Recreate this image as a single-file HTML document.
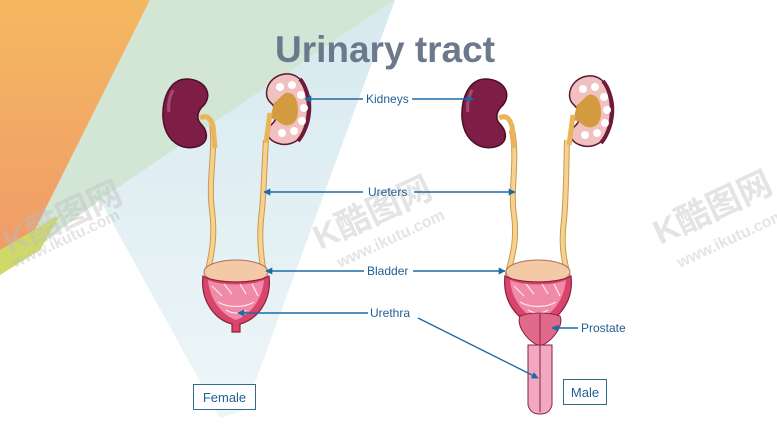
<!DOCTYPE html>
<html><head><meta charset="utf-8"><style>
html,body{margin:0;padding:0;background:#fff;}
svg{display:block;}
text{font-family:"Liberation Sans","Noto Sans CJK SC",sans-serif;}
</style></head><body>
<svg width="777" height="437" viewBox="0 0 777 437" xmlns="http://www.w3.org/2000/svg">
<defs>
<linearGradient id="blu" x1="0" y1="0" x2="0" y2="1">
<stop offset="0" stop-color="#d6e9ef"/><stop offset="1" stop-color="#eef6f8"/>
</linearGradient>
<linearGradient id="org" x1="0" y1="0" x2="0" y2="1">
<stop offset="0" stop-color="#f4b860"/><stop offset="1" stop-color="#ef9a6a"/>
</linearGradient>
<g id="kd">
<path d="M25 1 C6 0 -1 22 0 40 C2 64 20 74 36 68 C47 63 44 52 38 46 C33 41 34 33 41 27 C50 16 42 2 25 1 Z" fill="#7e1d45" stroke="#4a1028" stroke-width="1.5"/>
<path d="M10 12 C6 20 5 28 6 34" stroke="#a84a70" stroke-width="3" fill="none"/>
<path d="M37 40 C45 36 48 42 50 48 L52 70" stroke="#e9b45a" stroke-width="5" fill="none"/>
</g>
<g id="kc">
<path d="M23 1 C41 -1 51 22 48 42 C45 67 28 75 15 70 C4 66 3 57 10 51 C17 45 15 35 8 29 C0 21 6 3 23 1 Z" fill="#f1c0c0" stroke="#5a1a30" stroke-width="1.5"/>
<path d="M38 6 C50 20 50 52 36 68" stroke="#6e1a3a" stroke-width="4" fill="none"/>
<path d="M12 30 C20 24 22 18 28 20 C34 22 36 30 36 38 C36 48 30 54 22 52 C16 50 14 44 8 46 Z" fill="#d49a40"/>
<circle cx="18" cy="14" r="4" fill="#fff"/><circle cx="30" cy="12" r="4" fill="#fff"/><circle cx="39" cy="22" r="4" fill="#fff"/><circle cx="42" cy="35" r="4" fill="#fff"/><circle cx="40" cy="48" r="4" fill="#fff"/><circle cx="32" cy="58" r="4" fill="#fff"/><circle cx="20" cy="60" r="4" fill="#fff"/>
<path d="M8 40 L4 70" stroke="#e9b45a" stroke-width="5" fill="none"/>
</g>
<g id="bl">
<ellipse cx="0" cy="0" rx="32" ry="12" fill="#f4c9a6" stroke="#b07060" stroke-width="1"/>
<path d="M-33 4 C-36 30 -20 48 -4 52 L-4 60 L4 60 L4 52 C20 48 36 30 33 4 C20 12 -20 12 -33 4 Z" fill="#d9456a" stroke="#8a2040" stroke-width="1.2"/>
<path d="M-28 8 C-26 30 -12 44 0 48 C12 44 26 30 28 8 C15 14 -15 14 -28 8 Z" fill="#ef8aa8"/>
<path d="M-24 14 L-14 24 M-12 12 L-4 22 M4 12 L10 22 M16 12 L22 24 M-18 30 C-8 36 8 36 18 30 M-10 38 C-4 42 4 42 10 38" stroke="#fff" stroke-width="1.2" fill="none" opacity=".8"/>
</g>
<marker id="ar" viewBox="0 0 10 10" refX="9" refY="5" markerWidth="5" markerHeight="5" orient="auto-start-reverse"><path d="M0 0 L10 5 L0 10 Z" fill="#1f6aa5"/></marker>
</defs>

<polygon points="0,0 150,0 20,260 0,270" fill="url(#org)"/>
<polygon points="150,0 395,0 100,200 20,260" fill="#d3e6d6"/>
<polygon points="0,250 60,215 40,250 0,275" fill="#cfd96a"/>
<polygon points="395,0 100,200 220,418 245,410" fill="url(#blu)"/>

<text x="385" y="62" text-anchor="middle" font-size="37" font-weight="bold" fill="#6c788c">Urinary tract</text>

<g fill="#bdbdbd" opacity=".4" font-weight="bold">
<text x="10" y="255" font-size="34" transform="rotate(-25 10 255)">K酷图网</text>
<text x="15" y="268" font-size="16" transform="rotate(-25 15 268)">www.ikutu.com</text>
<text x="320" y="250" font-size="34" transform="rotate(-25 320 250)">K酷图网</text>
<text x="340" y="268" font-size="16" transform="rotate(-25 340 268)">www.ikutu.com</text>
<text x="660" y="245" font-size="34" transform="rotate(-25 660 245)">K酷图网</text>
<text x="680" y="268" font-size="16" transform="rotate(-25 680 268)">www.ikutu.com</text>
</g>

<path d="M212 125 C216 150 208 180 212 210 C216 240 210 260 207 275" stroke="#c89a50" stroke-width="6" fill="none"/>
<path d="M212 125 C216 150 208 180 212 210 C216 240 210 260 207 275" stroke="#f6d28e" stroke-width="4" fill="none"/>
<path d="M266 140 C264 170 264 190 262 210 C258 240 262 260 264 275" stroke="#c89a50" stroke-width="6" fill="none"/>
<path d="M266 140 C264 170 264 190 262 210 C258 240 262 260 264 275" stroke="#f6d28e" stroke-width="4" fill="none"/>
<use href="#kd" x="163" y="78"/>
<use href="#kc" x="262" y="73"/>
<use href="#bl" x="236" y="272"/>

<path d="M512 130 C518 160 510 190 514 215 C518 245 510 262 507 278" stroke="#c89a50" stroke-width="6" fill="none"/>
<path d="M512 130 C518 160 510 190 514 215 C518 245 510 262 507 278" stroke="#f6d28e" stroke-width="4" fill="none"/>
<path d="M567 140 C566 180 566 200 564 220 C560 250 566 265 568 278" stroke="#c89a50" stroke-width="6" fill="none"/>
<path d="M567 140 C566 180 566 200 564 220 C560 250 566 265 568 278" stroke="#f6d28e" stroke-width="4" fill="none"/>
<use href="#kd" x="462" y="78"/>
<use href="#kc" x="565" y="75"/>
<use href="#bl" x="538" y="272"/>
<path d="M520 316 C530 312 548 312 560 316 C564 326 552 342 540 346 C528 342 516 326 520 316 Z" fill="#e06a8a" stroke="#8a2040" stroke-width="1"/>
<line x1="540" y1="314" x2="540" y2="346" stroke="#8a2040"/>
<path d="M528 345 L552 345 L552 405 C550 412 546 414 540 414 C534 414 530 412 528 405 Z" fill="#f2a8c0" stroke="#8a2040" stroke-width="1"/>
<line x1="540" y1="345" x2="540" y2="412" stroke="#8a2040"/>

<g stroke="#1f6aa5" stroke-width="1.4" fill="none">
<line x1="363" y1="99" x2="305" y2="99" marker-end="url(#ar)"/>
<line x1="412" y1="99" x2="473" y2="99" marker-end="url(#ar)"/>
<line x1="363" y1="192" x2="264" y2="192" marker-end="url(#ar)"/>
<line x1="414" y1="192" x2="515" y2="192" marker-end="url(#ar)"/>
<line x1="364" y1="271" x2="266" y2="271" marker-end="url(#ar)"/>
<line x1="413" y1="271" x2="505" y2="271" marker-end="url(#ar)"/>
<line x1="368" y1="313" x2="238" y2="313" marker-end="url(#ar)"/>
<line x1="418" y1="318" x2="538" y2="378" marker-end="url(#ar)"/>
<line x1="578" y1="328" x2="552" y2="328" marker-end="url(#ar)"/>
</g>
<g fill="#1f5f95" font-size="12">
<text x="366" y="103">Kidneys</text>
<text x="368" y="196">Ureters</text>
<text x="367" y="275">Bladder</text>
<text x="370" y="317">Urethra</text>
<text x="581" y="332">Prostate</text>
</g>
<rect x="193.5" y="384.5" width="62" height="25" fill="#fff" stroke="#2d6c8f"/>
<text x="224.5" y="402" text-anchor="middle" font-size="13" fill="#1f5f95">Female</text>
<rect x="563.5" y="379.5" width="43" height="25" fill="#fff" stroke="#2d6c8f"/>
<text x="585" y="397" text-anchor="middle" font-size="13" fill="#1f5f95">Male</text>
</svg>
</body></html>
